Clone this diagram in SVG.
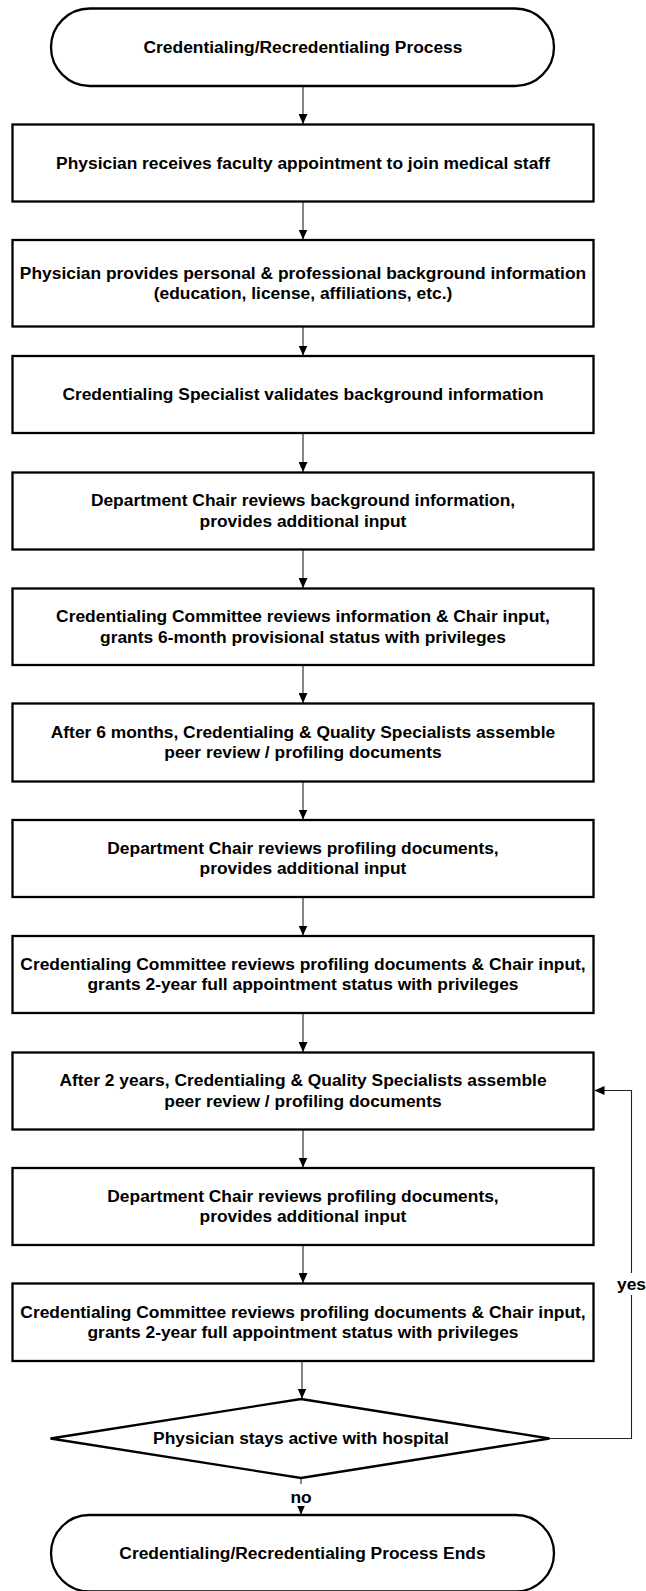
<svg xmlns="http://www.w3.org/2000/svg" width="646" height="1591" viewBox="0 0 646 1591">
<style>
.n{fill:#fff;stroke:#000;stroke-width:2.3}
.t{font-family:"Liberation Sans",Arial,sans-serif;font-weight:bold;font-size:17.4px;fill:#000;text-anchor:middle}
.c{fill:none;stroke:#222;stroke-width:1.1}
.lb{fill:#fff;stroke:none}
</style>
<defs>
<marker id="ah" markerUnits="userSpaceOnUse" markerWidth="10" markerHeight="9" refX="10" refY="4.5" orient="auto">
<path d="M0,0 L10,4.5 L0,9 z" fill="#000"/>
</marker>
</defs>
<rect width="646" height="1591" fill="#fff"/>
<g id="connectors">
<path class="c" d="M303 86 V124" marker-end="url(#ah)"/>
<path class="c" d="M303 202 V239.5" marker-end="url(#ah)"/>
<path class="c" d="M303 327 V355.5" marker-end="url(#ah)"/>
<path class="c" d="M303 433.5 V472" marker-end="url(#ah)"/>
<path class="c" d="M303 549.5 V588" marker-end="url(#ah)"/>
<path class="c" d="M303 665 V703" marker-end="url(#ah)"/>
<path class="c" d="M303 781.5 V819.5" marker-end="url(#ah)"/>
<path class="c" d="M303 897 V935.5" marker-end="url(#ah)"/>
<path class="c" d="M303 1013 V1052" marker-end="url(#ah)"/>
<path class="c" d="M303 1129.5 V1167.5" marker-end="url(#ah)"/>
<path class="c" d="M303 1245 V1283" marker-end="url(#ah)"/>
<path class="c" d="M302 1361 V1398.5" marker-end="url(#ah)"/>
<path class="c" d="M301 1477.5 V1514.5" marker-end="url(#ah)"/>
<rect class="lb" x="289" y="1484" width="24" height="22"/>
<text class="t" x="301" y="1503">no</text>
<path class="c" d="M549.5 1438.5 H631.5 V1090.5 H594.5" marker-end="url(#ah)"/>
<rect class="lb" x="616" y="1273" width="30" height="22"/>
<text class="t" x="631.5" y="1290">yes</text>
</g>
<g id="start">
<rect class="n" x="51" y="8.5" width="503" height="77.5" rx="38.75" ry="38.75"/>
<text class="t" x="303" y="52.5">Credentialing/Recredentialing Process</text>
</g>
<g id="box1">
<rect class="n" x="12.5" y="124.5" width="581" height="77"/>
<text class="t" x="303" y="168.5">Physician receives faculty appointment to join medical staff</text>
</g>
<g id="box2">
<rect class="n" x="12.5" y="240" width="581" height="86.5"/>
<text class="t" x="303" y="278.5">Physician provides personal &amp; professional background information</text>
<text class="t" x="303" y="299">(education, license, affiliations, etc.)</text>
</g>
<g id="box3">
<rect class="n" x="12.5" y="356" width="581" height="77"/>
<text class="t" x="303" y="400">Credentialing Specialist validates background information</text>
</g>
<g id="box4">
<rect class="n" x="12.5" y="472.5" width="581" height="77"/>
<text class="t" x="303" y="506">Department Chair reviews background information,</text>
<text class="t" x="303" y="526.5">provides additional input</text>
</g>
<g id="box5">
<rect class="n" x="12.5" y="588.5" width="581" height="76.5"/>
<text class="t" x="303" y="622">Credentialing Committee reviews information &amp; Chair input,</text>
<text class="t" x="303" y="642.5">grants 6-month provisional status with privileges</text>
</g>
<g id="box6">
<rect class="n" x="12.5" y="703.5" width="581" height="78"/>
<text class="t" x="303" y="737.5">After 6 months, Credentialing &amp; Quality Specialists assemble</text>
<text class="t" x="303" y="758">peer review / profiling documents</text>
</g>
<g id="box7">
<rect class="n" x="12.5" y="820" width="581" height="77"/>
<text class="t" x="303" y="853.5">Department Chair reviews profiling documents,</text>
<text class="t" x="303" y="874">provides additional input</text>
</g>
<g id="box8">
<rect class="n" x="12.5" y="936" width="581" height="77"/>
<text class="t" x="303" y="969.5">Credentialing Committee reviews profiling documents &amp; Chair input,</text>
<text class="t" x="303" y="990">grants 2-year full appointment status with privileges</text>
</g>
<g id="box9">
<rect class="n" x="12.5" y="1052.5" width="581" height="77"/>
<text class="t" x="303" y="1086">After 2 years, Credentialing &amp; Quality Specialists assemble</text>
<text class="t" x="303" y="1106.5">peer review / profiling documents</text>
</g>
<g id="box10">
<rect class="n" x="12.5" y="1168" width="581" height="77"/>
<text class="t" x="303" y="1201.5">Department Chair reviews profiling documents,</text>
<text class="t" x="303" y="1222">provides additional input</text>
</g>
<g id="box11">
<rect class="n" x="12.5" y="1283.5" width="581" height="77.5"/>
<text class="t" x="303" y="1317.5">Credentialing Committee reviews profiling documents &amp; Chair input,</text>
<text class="t" x="303" y="1338">grants 2-year full appointment status with privileges</text>
</g>
<g id="decision">
<polygon class="n" points="301,1399 549.5,1438.5 301,1478 50.5,1438.5"/>
<text class="t" x="301" y="1444">Physician stays active with hospital</text>
</g>
<g id="end">
<rect class="n" x="51" y="1515" width="503" height="76.5" rx="38.25" ry="38.25"/>
<text class="t" x="302.5" y="1558.5">Credentialing/Recredentialing Process Ends</text>
</g>
</svg>
